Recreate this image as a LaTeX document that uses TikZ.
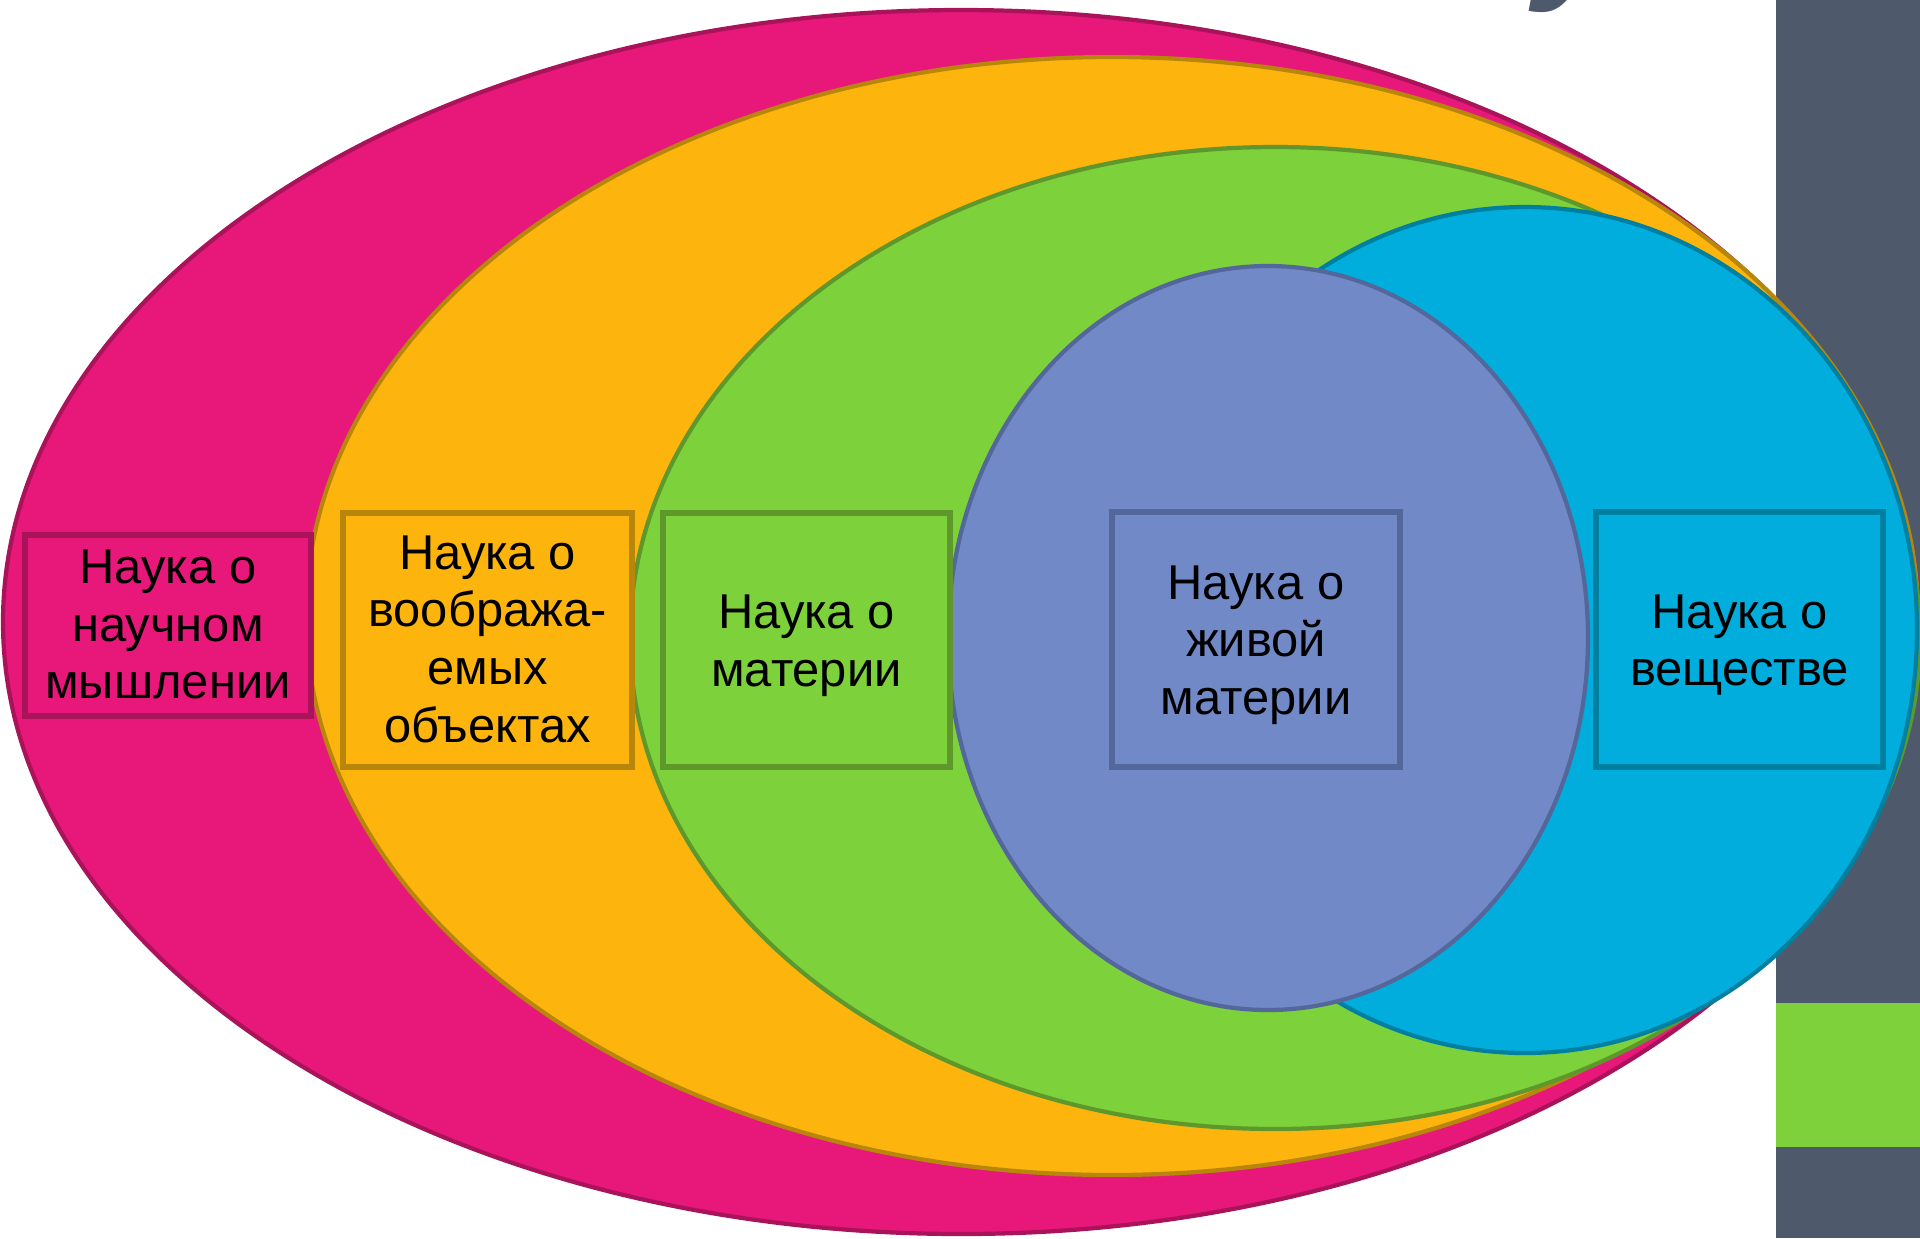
\documentclass[tikz,border=0pt]{standalone}
\usepackage{fontspec}
\setmainfont{Liberation Sans}
\usetikzlibrary{shapes.geometric}
\definecolor{pinkF}{HTML}{E8177A}
\definecolor{pinkD}{HTML}{A8135A}
\definecolor{orangeF}{HTML}{FDB50D}
\definecolor{orangeD}{HTML}{B8860A}
\definecolor{greenF}{HTML}{7DD13B}
\definecolor{greenD}{HTML}{5E982C}
\definecolor{blueF}{HTML}{00ADDC}
\definecolor{blueD}{HTML}{0080A0}
\definecolor{purpleF}{HTML}{7189C7}
\definecolor{purpleD}{HTML}{54679A}
\definecolor{slate}{HTML}{4E596B}
\definecolor{barGreen}{HTML}{7FD13B}
\pgfdeclareradialshading{bgshade}{\pgfpoint{0bp}{0bp}}{color(0bp)=(white);color(42bp)=(white);color(56bp)=(black!8);color(72bp)=(black!14)}
\begin{document}
\begin{tikzpicture}[x=0.01cm,y=-0.01cm,
  ring/.style={line width=1.2pt},
  box/.style={rectangle, line width=1.5pt, inner sep=0pt},
  txt/.style={inner sep=0pt, align=center, text=black,
    font=\fontsize{13.9pt}{16.4pt}\selectfont}]
\useasboundingbox (0,0) rectangle (1920,1238);
\clip (0,0) rectangle (1920,1238);
% background
\shade[shading=bgshade] (0,0) rectangle (1776,1238);
\fill[slate] (1776,0) rectangle (1920,1238);
\fill[barGreen] (1776,1003) rectangle (1920,1147);
% cut-off title glyph
\node[anchor=base west, inner sep=0pt, text=slate,
  font=\fontsize{44pt}{50pt}\selectfont\bfseries\itshape] (titleGlyph) at (1535,-20) {у};
% nested ellipses
\draw[ring, fill=pinkF, draw=pinkD] (961,622) ellipse [x radius=958, y radius=612];
\draw[ring, fill=orangeF, draw=orangeD] (1112,616) ellipse [x radius=806, y radius=559];
\draw[ring, fill=greenF, draw=greenD] (1275,638) ellipse [x radius=645, y radius=491];
\draw[ring, fill=blueF, draw=blueD] (1525,630) ellipse [x radius=392, y radius=423];
\draw[ring, fill=purpleF, draw=purpleD] (1268,638) ellipse [x radius=320, y radius=372];
% labelled boxes
\node[box, fill=pinkF, draw=pinkD, minimum width=2.86cm, minimum height=1.81cm]
  (b1) at (168,625.5) {};
\node[box, fill=orangeF, draw=orangeD, minimum width=2.89cm, minimum height=2.54cm]
  (b2) at (487.5,640) {};
\node[box, fill=greenF, draw=greenD, minimum width=2.87cm, minimum height=2.54cm]
  (b3) at (806.5,640) {};
\node[box, fill=purpleF, draw=purpleD, minimum width=2.88cm, minimum height=2.55cm]
  (b4) at (1256,639.5) {};
\node[box, fill=blueF, draw=blueD, minimum width=2.87cm, minimum height=2.55cm]
  (b5) at (1739.5,639.5) {};
% texts
\node[txt] (t1) at ([yshift=0.3pt]b1.center) {Наука о\\научном\\мышлении};
\node[txt] (t2) at ([yshift=0.3pt]b2.center) {Наука о\\вообража-\\емых\\объектах};
\node[txt] (t3) at ([yshift=-1.6pt]b3.center) {Наука о\\материи};
\node[txt] (t4) at ([yshift=-1.6pt]b4.center) {Наука о\\живой\\материи};
\node[txt] (t5) at ([yshift=-1.6pt]b5.center) {Наука о\\веществе};
\end{tikzpicture}
\end{document}
